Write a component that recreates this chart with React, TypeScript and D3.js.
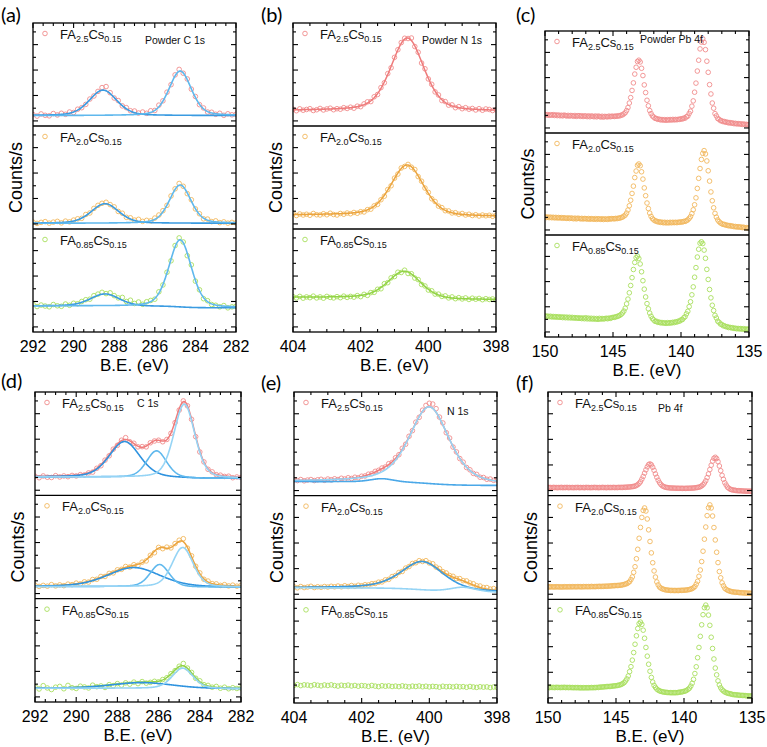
import React from "react";
import * as d3 from "d3";

// ---- binding-energy grids (eV) ----
const c1sEnergy = d3.range(51).map((i) => 292 - i * 0.2);
const n1sEnergy = d3.range(61).map((i) => 404 - i * 0.1);
const pb4fEnergy = d3.range(151).map((i) => 150 - i * 0.1);

// ---- samples ----
const faSubscripts = ["2.5", "2.0", "0.85"];
const csSubscript = "0.15";
const markerColors = ["#f08c8c", "#f2b85e", "#a8df5e"];
const envelopeColors = ["#ee7b7b", "#eba43e", "#92d347"];

// ---- axis ticks ----
const c1sTicks = [292, 290, 288, 286, 284, 282];
const n1sTicks = [404, 402, 400, 398];
const pb4fTicks = [150, 145, 140, 135];
const countTicks = d3.range(0, 701, 100);
const countDomain = [-40, 770];

// ---- powder C 1s (counts/s, arb. offset) ----
const powderC1s25 = [50, 38, 55, 44, 40, 58, 47, 60, 52, 70, 66, 92, 104, 130, 172, 196, 232, 262, 270, 222, 180, 160, 118, 104, 80, 78, 62, 70, 60, 80, 82, 124, 158, 226, 285, 362, 405, 375, 330, 250, 192, 128, 102, 70, 68, 52, 60, 44, 56, 48, 52];
const powderC1s20 = [14, 4, 12, 18, 6, 14, 20, 8, 22, 16, 30, 40, 44, 74, 86, 122, 146, 162, 170, 152, 134, 98, 84, 52, 48, 30, 36, 20, 28, 24, 46, 70, 104, 146, 220, 276, 318, 296, 238, 190, 118, 80, 40, 38, 18, 24, 10, 16, 6, 12, 8];
const powderC1s085 = [178, 160, 172, 164, 158, 176, 166, 162, 180, 170, 186, 182, 200, 214, 218, 246, 258, 272, 262, 268, 246, 228, 232, 200, 210, 184, 196, 178, 198, 208, 218, 276, 330, 430, 520, 640, 700, 668, 560, 488, 360, 292, 222, 206, 176, 170, 158, 168, 150, 158, 162];

// ---- powder N 1s ----
const powderN1s25 = [92, 80, 95, 84, 90, 96, 82, 88, 98, 86, 94, 100, 88, 96, 92, 104, 98, 108, 100, 116, 112, 134, 150, 152, 190, 208, 262, 300, 372, 418, 500, 560, 616, 650, 648, 652, 585, 540, 455, 410, 330, 288, 228, 204, 160, 152, 124, 126, 104, 112, 96, 104, 92, 98, 86, 96, 84, 94, 90, 82, 88];
const powderN1s20 = [80, 66, 78, 70, 76, 68, 82, 72, 70, 80, 72, 84, 74, 70, 82, 76, 86, 80, 90, 84, 96, 94, 112, 116, 142, 154, 190, 218, 270, 300, 360, 392, 440, 452, 468, 446, 428, 372, 336, 282, 248, 198, 176, 140, 128, 104, 102, 86, 88, 76, 82, 70, 76, 66, 72, 62, 70, 64, 68, 60, 66];
const powderN1s085 = [238, 228, 240, 226, 236, 230, 242, 228, 236, 226, 240, 232, 228, 238, 230, 242, 232, 240, 234, 246, 238, 256, 248, 270, 272, 296, 300, 340, 348, 386, 396, 430, 428, 446, 420, 418, 384, 372, 334, 322, 290, 284, 258, 258, 240, 244, 228, 236, 222, 230, 220, 228, 216, 226, 218, 224, 214, 222, 216, 220, 212];

// ---- powder Pb 4f ----
const powderPb25 = [
  108, 103, 106, 100, 105, 101, 106, 99, 104, 98, 103, 97, 101, 96, 102, 99, 95, 100, 94, 99,
  97, 93, 99, 92, 97, 98, 92, 97, 91, 96, 95, 90, 96, 89, 95, 93, 89, 95, 88, 94,
  92, 87, 93, 86, 92, 90, 88, 94, 89, 93, 93, 91, 95, 93, 97, 96, 102, 104, 112, 121,
  138, 162, 198, 241, 298, 358, 428, 482, 528, 538, 524, 474, 416, 342, 281, 220, 176, 138, 114, 95,
  86, 76, 75, 68, 70, 64, 67, 62, 66, 61, 66, 62, 67, 63, 68, 64, 68, 65, 69, 68,
  73, 71, 78, 78, 89, 94, 115, 133, 173, 215, 284, 356, 452, 538, 628, 682, 708, 680, 622, 530,
  442, 344, 270, 198, 157, 114, 96, 75, 69, 58, 57, 50, 51, 45, 46, 40, 43, 38, 40, 34,
  37, 32, 35, 31, 33, 28, 32, 27, 29, 25, 27];
const powderPb20 = [
  104, 99, 103, 98, 102, 97, 101, 96, 100, 95, 99, 95, 98, 93, 97, 94, 92, 96, 91, 95,
  93, 89, 94, 88, 93, 92, 88, 92, 87, 91, 90, 86, 91, 85, 90, 88, 85, 90, 84, 89,
  88, 84, 89, 83, 88, 86, 84, 90, 86, 90, 90, 88, 92, 90, 94, 94, 99, 102, 110, 118,
  134, 158, 192, 236, 290, 348, 416, 468, 514, 524, 510, 462, 404, 334, 272, 214, 170, 134, 108, 90,
  80, 72, 70, 64, 65, 60, 62, 57, 61, 56, 60, 56, 61, 57, 61, 58, 61, 58, 62, 61,
  64, 63, 68, 68, 74, 80, 92, 106, 130, 160, 200, 255, 330, 410, 488, 560, 608, 630, 604, 548,
  470, 388, 302, 232, 176, 132, 102, 80, 66, 56, 50, 44, 44, 38, 38, 33, 35, 30, 31, 26,
  28, 23, 26, 22, 24, 19, 22, 17, 19, 15, 17];
const powderPb085 = [
  128, 122, 126, 121, 125, 119, 123, 118, 122, 117, 121, 116, 120, 114, 119, 113, 118, 112, 117, 111,
  116, 110, 114, 109, 113, 108, 112, 106, 111, 105, 113, 104, 110, 103, 109, 102, 108, 101, 107, 100,
  108, 102, 107, 103, 106, 109, 105, 110, 108, 113, 116, 116, 120, 123, 127, 132, 140, 151, 166, 189,
  223, 261, 311, 369, 431, 496, 552, 590, 602, 583, 540, 478, 407, 340, 278, 225, 184, 150, 125, 106,
  95, 84, 85, 76, 78, 72, 75, 70, 73, 68, 74, 69, 74, 71, 77, 74, 81, 79, 86, 86,
  96, 98, 112, 121, 144, 164, 201, 240, 295, 358, 435, 511, 595, 657, 705, 716, 702, 650, 585, 497,
  417, 337, 271, 212, 170, 132, 111, 86, 77, 63, 60, 49, 49, 42, 42, 35, 37, 32, 34, 28,
  30, 25, 28, 24, 27, 22, 26, 21, 24, 20, 23];

// ---- film C 1s ----
const filmC1s25 = [110, 98, 112, 102, 100, 114, 104, 112, 106, 116, 112, 122, 120, 136, 142, 172, 192, 236, 270, 322, 352, 392, 412, 380, 368, 340, 342, 340, 372, 386, 392, 380, 398, 446, 530, 628, 700, 662, 556, 420, 300, 222, 164, 144, 122, 118, 108, 110, 98, 104, 100];
const filmC1s20 = [66, 56, 64, 58, 70, 60, 68, 62, 74, 70, 82, 76, 92, 90, 110, 112, 134, 134, 158, 162, 186, 190, 212, 208, 226, 222, 246, 256, 300, 320, 362, 352, 364, 358, 392, 418, 430, 356, 296, 214, 162, 112, 98, 78, 76, 64, 70, 60, 66, 58, 64];
const filmC1s085 = [80, 62, 88, 70, 58, 76, 82, 64, 90, 72, 66, 84, 78, 70, 92, 80, 86, 74, 96, 88, 104, 92, 110, 100, 116, 104, 120, 108, 114, 122, 118, 136, 150, 182, 206, 240, 262, 226, 192, 146, 126, 96, 90, 76, 82, 68, 76, 64, 72, 66, 70];

// ---- film N 1s ----
const filmN1s25 = [84, 78, 86, 76, 82, 86, 78, 84, 88, 80, 90, 84, 92, 86, 96, 90, 100, 94, 104, 100, 112, 114, 128, 132, 150, 158, 176, 184, 210, 220, 256, 280, 330, 362, 424, 468, 534, 572, 628, 665, 682, 676, 640, 574, 528, 452, 410, 340, 302, 250, 222, 180, 162, 134, 126, 104, 102, 88, 90, 80, 82];
const filmN1s20 = [58, 50, 60, 52, 56, 62, 52, 58, 54, 60, 56, 62, 58, 64, 58, 66, 60, 68, 62, 70, 66, 74, 72, 82, 84, 94, 96, 112, 116, 138, 146, 170, 178, 204, 216, 240, 246, 262, 256, 262, 244, 238, 212, 200, 176, 166, 146, 140, 122, 122, 106, 104, 88, 82, 66, 64, 52, 52, 40, 44, 34];
const filmN1s085 = [98, 104, 96, 102, 100, 95, 103, 99, 94, 101, 97, 102, 96, 92, 99, 95, 100, 93, 97, 91, 96, 94, 90, 97, 92, 88, 95, 91, 94, 89, 92, 88, 94, 90, 86, 92, 89, 93, 87, 91, 86, 90, 88, 84, 91, 87, 89, 85, 90, 86, 88, 83, 89, 85, 82, 87, 84, 86, 81, 85, 82];

// ---- film Pb 4f ----
const filmPb25 = [
  25, 23, 24, 22, 25, 23, 24, 22, 24, 23, 25, 22, 24, 23, 25, 22, 24, 23, 24, 22,
  24, 23, 25, 22, 24, 23, 24, 22, 25, 23, 24, 22, 24, 23, 25, 23, 24, 22, 24, 23,
  25, 23, 24, 22, 25, 23, 24, 23, 25, 23, 24, 23, 25, 24, 25, 24, 26, 25, 27, 27,
  28, 29, 31, 32, 35, 40, 46, 56, 69, 89, 110, 136, 162, 185, 203, 208, 201, 182, 158, 130,
  104, 81, 62, 48, 37, 32, 27, 24, 23, 21, 20, 20, 19, 19, 18, 18, 18, 17, 18, 17,
  17, 17, 18, 18, 18, 19, 19, 20, 21, 23, 24, 27, 30, 37, 45, 59, 76, 101, 130, 164,
  198, 230, 252, 260, 250, 226, 192, 155, 119, 88, 61, 43, 26, 18, 10, 7, 4, 3, 1, -1,
  -1, -2, -2, -3, -4, -4, -5, -5, -5, -6, -6];
const filmPb20 = [
  58, 56, 59, 57, 58, 56, 59, 57, 58, 56, 58, 56, 59, 57, 58, 57, 59, 57, 59, 58,
  59, 57, 60, 58, 59, 57, 60, 58, 60, 58, 60, 58, 61, 59, 60, 59, 61, 60, 62, 60,
  62, 61, 63, 62, 63, 64, 64, 66, 66, 67, 68, 68, 69, 70, 71, 74, 76, 80, 83, 90,
  98, 115, 135, 171, 215, 277, 351, 437, 522, 600, 655, 674, 650, 588, 503, 412, 323, 246, 182, 134,
  96, 73, 56, 48, 42, 39, 35, 33, 32, 31, 29, 30, 29, 29, 29, 29, 29, 30, 30, 31,
  31, 32, 33, 35, 37, 40, 44, 51, 60, 79, 101, 140, 189, 255, 336, 430, 525, 614, 676, 698,
  674, 611, 521, 424, 328, 247, 177, 128, 89, 66, 47, 38, 31, 27, 23, 20, 18, 17, 15, 15,
  14, 12, 12, 11, 10, 10, 9, 8, 8, 7, 7];
const filmPb085 = [
  82, 80, 83, 81, 82, 80, 83, 81, 82, 80, 82, 81, 83, 80, 82, 80, 82, 80, 81, 79,
  81, 79, 81, 78, 80, 78, 80, 78, 80, 78, 80, 79, 81, 79, 81, 80, 82, 81, 84, 84,
  85, 86, 87, 88, 89, 89, 90, 91, 93, 94, 95, 97, 99, 102, 106, 112, 119, 132, 148, 171,
  205, 244, 295, 354, 419, 485, 542, 580, 592, 574, 529, 466, 394, 326, 263, 208, 160, 124, 98, 82,
  69, 61, 55, 51, 48, 46, 44, 43, 42, 41, 41, 40, 41, 40, 41, 41, 43, 45, 46, 48,
  51, 54, 59, 67, 76, 92, 114, 145, 190, 243, 314, 394, 481, 571, 650, 705, 725, 704, 647, 567,
  474, 386, 304, 233, 180, 133, 101, 79, 63, 54, 46, 41, 37, 34, 32, 29, 26, 25, 24, 23,
  22, 20, 20, 19, 19, 18, 16, 16, 15, 15, 14];

// ---- peak fits: [centre eV, height, FWHM eV, Lorentzian fraction] ----
const powderC1sPeaks = [
  [[288.55, 200, 1.6, 0.3], [284.75, 350, 1.3, 0.3]],
  [[288.45, 154, 1.6, 0.3], [284.75, 301, 1.25, 0.3]],
  [[288.45, 96, 1.7, 0.3], [284.75, 529, 1.3, 0.3]],
];
const powderC1sBackground = [[42, 42], [5, 5], [165, 150]];
const powderN1sPeaks = [
  [[400.62, 573, 1.15, 0.35]],
  [[400.62, 400, 1.15, 0.35]],
  [[400.7, 215, 1.15, 0.35]],
];
const powderN1sBackground = [[82, 76], [70, 58], [232, 214]];
const filmC1sPeaks = [
  [[287.65, 280, 1.75, 0.3], [286.1, 210, 1.15, 0.3], [284.75, 580, 1.2, 0.3]],
  [[287.2, 150, 3.0, 0.3], [285.95, 175, 1.1, 0.3], [284.83, 310, 1.2, 0.3]],
  [[286.8, 45, 3.5, 0.3], [284.83, 160, 1.2, 0.3]],
];
const filmC1sBackground = [[104, 92], [55, 50], [68, 64]];
const filmN1sPeaks = [
  [[400.0, 600, 1.4, 0.5], [401.4, 25, 0.8, 0.3]],
  [[400.2, 222, 1.5, 0.5], [399.0, 36, 0.9, 0.3]],
];
const filmN1sBackground = [[70, 40], [50, 15]];

const blueDark = "#3a9be1";
const blueMid = "#5fb8ed";
const blueLight = "#95d4f5";

type Fit = { bg: number[]; peaks: number[][]; colors: string[]; envelope: boolean };

const powderC1sFits: (Fit | null)[] = powderC1sPeaks.map((peaks, k) => ({
  bg: powderC1sBackground[k], peaks, colors: [blueDark, blueMid], envelope: false,
}));
const powderN1sFits: (Fit | null)[] = powderN1sPeaks.map((peaks, k) => ({
  bg: powderN1sBackground[k], peaks, colors: [], envelope: true,
}));
const filmC1sFits: (Fit | null)[] = filmC1sPeaks.map((peaks, k) => ({
  bg: filmC1sBackground[k], peaks,
  colors: peaks.length === 3 ? ["#2f93df", blueMid, blueLight] : ["#2f93df", blueLight],
  envelope: true,
}));
const filmN1sFits: (Fit | null)[] = [
  { bg: filmN1sBackground[0], peaks: filmN1sPeaks[0], colors: [blueLight, "#4aa8e8"], envelope: true },
  { bg: filmN1sBackground[1], peaks: filmN1sPeaks[1], colors: [blueDark, blueLight], envelope: true },
  null,
];

type PanelSpec = {
  letter: string;
  box: number[];
  letterAt: number[];
  energy: number[];
  domain: number[];
  ticks: number[];
  minor: number;
  spectra: number[][];
  fits: (Fit | null)[];
  note: string;
  noteAt: number[];
};

const panels: PanelSpec[] = [
  { letter: "(a)", box: [33, 236, 23, 332], letterAt: [1, 22], energy: c1sEnergy, domain: [292, 282], ticks: c1sTicks, minor: 0.5,
    spectra: [powderC1s25, powderC1s20, powderC1s085], fits: powderC1sFits, note: "Powder C 1s", noteAt: [145, 44] },
  { letter: "(b)", box: [293, 496, 23, 332], letterAt: [261, 22], energy: n1sEnergy, domain: [404, 398], ticks: n1sTicks, minor: 0.5,
    spectra: [powderN1s25, powderN1s20, powderN1s085], fits: powderN1sFits, note: "Powder N 1s", noteAt: [422, 44] },
  { letter: "(c)", box: [545, 749, 31, 337], letterAt: [516, 22], energy: pb4fEnergy, domain: [150, 135], ticks: pb4fTicks, minor: 1,
    spectra: [powderPb25, powderPb20, powderPb085], fits: [null, null, null], note: "Powder Pb 4f", noteAt: [640, 43] },
  { letter: "(d)", box: [35, 241, 392, 702], letterAt: [1, 388], energy: c1sEnergy, domain: [292, 282], ticks: c1sTicks, minor: 0.5,
    spectra: [filmC1s25, filmC1s20, filmC1s085], fits: filmC1sFits, note: "C 1s", noteAt: [137, 407] },
  { letter: "(e)", box: [294, 497, 392, 703], letterAt: [261, 390], energy: n1sEnergy, domain: [404, 398], ticks: n1sTicks, minor: 0.5,
    spectra: [filmN1s25, filmN1s20, filmN1s085], fits: filmN1sFits, note: "N 1s", noteAt: [447, 415] },
  { letter: "(f)", box: [548, 752, 392, 703], letterAt: [516, 390], energy: pb4fEnergy, domain: [150, 135], ticks: pb4fTicks, minor: 1,
    spectra: [filmPb25, filmPb20, filmPb085], fits: [null, null, null], note: "Pb 4f", noteAt: [658, 412] },
];

const SANS = "'Liberation Sans', Arial, Helvetica, sans-serif";

function pseudoVoigt(x: number, p: number[]) {
  const [c, h, w, eta] = p;
  const t = ((x - c) * (x - c)) / (w * w);
  return h * ((1 - eta) * Math.exp(-4 * Math.LN2 * t) + eta / (1 + 4 * t));
}

// component curves on a Shirley-type background stepping up toward high binding energy
function fitCurves(fit: Fit, domain: number[]) {
  const n = 400;
  const xs = d3.range(n + 1).map((i) => domain[0] + ((domain[1] - domain[0]) * i) / n);
  const comps = fit.peaks.map((p) => xs.map((x) => pseudoVoigt(x, p)));
  const sum = xs.map((_, j) => d3.sum(comps, (c) => c[j]));
  const cum = new Array(xs.length).fill(0);
  for (let j = xs.length - 2; j >= 0; j--) cum[j] = cum[j + 1] + (sum[j] + sum[j + 1]) / 2;
  const total = cum[0] || 1;
  const bg = cum.map((v) => fit.bg[1] + ((fit.bg[0] - fit.bg[1]) * v) / total);
  return {
    xs,
    comps: comps.map((c) => c.map((v, j) => v + bg[j])),
    envelope: sum.map((v, j) => v + bg[j]),
  };
}

function Panel({ spec, index }: { spec: PanelSpec; index: number }) {
  const [l, r, t, b] = spec.box;
  const x = d3.scaleLinear().domain(spec.domain).range([l, r]);
  const h = (b - t) / 3;
  const lo = Math.min(spec.domain[0], spec.domain[1]);
  const hi = Math.max(spec.domain[0], spec.domain[1]);
  const minorTicks = d3.range(lo, hi + 1e-6, spec.minor);

  return (
    <g>
      <text x={spec.letterAt[0]} y={spec.letterAt[1]} fontFamily="Lato, 'Open Sans', sans-serif" fontSize={20}>
        {spec.letter}
      </text>
      {spec.spectra.map((values, k) => {
        const y0 = t + k * h;
        const y1 = t + (k + 1) * h;
        const y = d3.scaleLinear().domain(countDomain).range([y1, y0]);
        const fit = spec.fits[k];
        const clipId = `clip-${index}-${k}`;
        let fitEls: React.ReactNode = null;
        if (fit) {
          const fc = fitCurves(fit, spec.domain);
          const line = d3
            .line<number>()
            .x((_, j) => x(fc.xs[j]))
            .y((v) => y(v))
            .curve(d3.curveLinear);
          fitEls = (
            <g clipPath={`url(#${clipId})`} fill="none">
              {fit.envelope && (
                <path d={line(fc.envelope) || ""} stroke={envelopeColors[k]} strokeWidth={1.5} />
              )}
              {fit.colors.map((col, ci) => (
                <path key={ci} d={line(fc.comps[ci]) || ""} stroke={col} strokeWidth={1.6} />
              ))}
            </g>
          );
        }
        return (
          <g key={k}>
            <defs>
              <clipPath id={clipId}>
                <rect x={l} y={y0} width={r - l} height={y1 - y0} />
              </clipPath>
            </defs>
            <g clipPath={`url(#${clipId})`}>
              {values.map((v, j) => (
                <circle
                  key={j}
                  cx={x(spec.energy[j])}
                  cy={y(v)}
                  r={2.3}
                  fill="none"
                  stroke={markerColors[k]}
                  strokeWidth={0.9}
                />
              ))}
            </g>
            {fitEls}
            {/* legend */}
            <circle cx={l + 12} cy={y0 + 10.5} r={2.3} fill="none" stroke={markerColors[k]} strokeWidth={0.9} />
            <text x={l + 27} y={y0 + 16} fontFamily={SANS} fontSize={13} fill="#111">
              FA
              <tspan fontSize={9} dy={3}>{faSubscripts[k]}</tspan>
              <tspan dy={-3}>Cs</tspan>
              <tspan fontSize={9} dy={3}>{csSubscript}</tspan>
            </text>
            {/* y ticks, both sides */}
            {countTicks.map((v) => {
              const len = v % 200 === 0 ? 5 : 3;
              const yy = y(v);
              return (
                <g key={v} stroke="#000" strokeWidth={1.1}>
                  <line x1={l} x2={l + len} y1={yy} y2={yy} />
                  <line x1={r} x2={r - len} y1={yy} y2={yy} />
                </g>
              );
            })}
            {k > 0 && <line x1={l} x2={r} y1={y0} y2={y0} stroke="#000" strokeWidth={1.3} />}
          </g>
        );
      })}
      {/* x ticks on bottom and top edges */}
      {minorTicks.map((v) => {
        const major = spec.ticks.some((tv) => Math.abs(tv - v) < 1e-6);
        const len = major ? 5 : 3;
        const xx = x(v);
        return (
          <g key={v} stroke="#000" strokeWidth={1.1}>
            <line x1={xx} x2={xx} y1={b} y2={b - len} />
            <line x1={xx} x2={xx} y1={t} y2={t + len} />
          </g>
        );
      })}
      <rect x={l} y={t} width={r - l} height={b - t} fill="none" stroke="#000" strokeWidth={1.3} />
      {spec.ticks.map((v) => (
        <text key={v} x={x(v)} y={b + 20} textAnchor="middle" fontFamily={SANS} fontSize={16}>
          {v}
        </text>
      ))}
      <text x={(l + r) / 2} y={b + 39} textAnchor="middle" fontFamily={SANS} fontSize={17}>
        B.E. (eV)
      </text>
      <text
        transform={`translate(${l - 17},${(t + b) / 2}) rotate(-90)`}
        textAnchor="middle"
        dominantBaseline="central"
        fontFamily={SANS}
        fontSize={18}
      >
        Counts/s
      </text>
      <text x={spec.noteAt[0]} y={spec.noteAt[1]} fontFamily={SANS} fontSize={10.5} fill="#111">
        {spec.note}
      </text>
    </g>
  );
}

export default function App() {
  return (
    <svg
      width={767}
      height={747}
      viewBox="0 0 767 747"
      style={{ position: "absolute", left: 0, top: 0, background: "#fff" }}
    >
      <rect width={767} height={747} fill="#fff" />
      {panels.map((p, i) => (
        <Panel key={p.letter} spec={p} index={i} />
      ))}
    </svg>
  );
}
